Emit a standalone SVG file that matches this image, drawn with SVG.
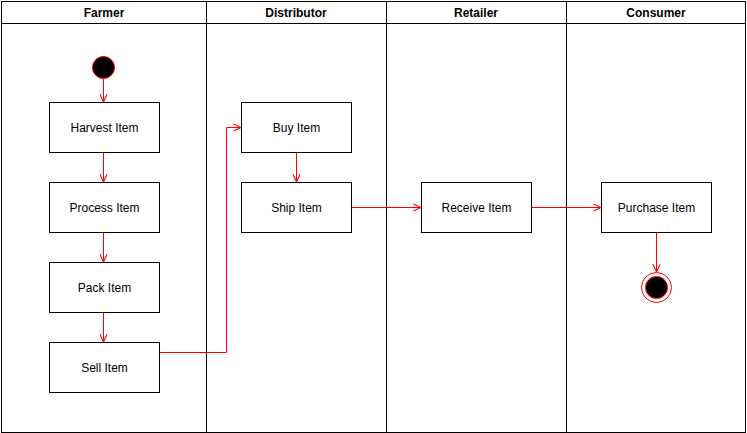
<svg xmlns="http://www.w3.org/2000/svg" width="747" height="433" viewBox="0 0 747 433">
<defs>
<marker id="arr" viewBox="0 0 10 10" refX="9.5" refY="5" markerWidth="9" markerHeight="9" markerUnits="userSpaceOnUse" orient="auto">
<path d="M1,1 L9.5,5 L1,9" fill="none" stroke="#ff0000" stroke-width="1.2"/>
</marker>
</defs>
<style>
.lane{fill:#ffffff;stroke:#000000;stroke-width:1}
.box{fill:#ffffff;stroke:#000000;stroke-width:1}
.t{font-family:"Liberation Sans",Arial,sans-serif;font-size:12px;fill:#000000;text-anchor:middle;dominant-baseline:central}
.h{font-weight:bold}
.c{fill:none;stroke:#ff0000;stroke-width:1;marker-end:url(#arr)}
</style>
<rect x="0" y="0" width="747" height="433" fill="#ffffff"/>
<g id="lane-farmer">
<rect class="lane" x="1.5" y="1.5" width="205" height="431"/>
<line x1="1.5" y1="23.5" x2="206.5" y2="23.5" stroke="#000"/>
<text class="t h" x="104" y="12.5">Farmer</text>
</g>
<g id="lane-distributor">
<rect class="lane" x="206.5" y="1.5" width="180" height="431"/>
<line x1="206.5" y1="23.5" x2="386.5" y2="23.5" stroke="#000"/>
<text class="t h" x="296" y="12.5">Distributor</text>
</g>
<g id="lane-retailer">
<rect class="lane" x="386.5" y="1.5" width="180" height="431"/>
<line x1="386.5" y1="23.5" x2="566.5" y2="23.5" stroke="#000"/>
<text class="t h" x="476" y="12.5">Retailer</text>
</g>
<g id="lane-consumer">
<rect class="lane" x="566.5" y="1.5" width="179" height="431"/>
<line x1="566.5" y1="23.5" x2="745.5" y2="23.5" stroke="#000"/>
<text class="t h" x="656" y="12.5">Consumer</text>
</g>
<g id="start">
<circle cx="103.5" cy="67.5" r="11" fill="#000000" stroke="#ff0000" stroke-width="1"/>
</g>
<g id="harvest">
<rect class="box" x="49.5" y="102.5" width="110" height="50"/>
<text class="t" x="104.5" y="127.5">Harvest Item</text>
</g>
<g id="process">
<rect class="box" x="49.5" y="182.5" width="110" height="50"/>
<text class="t" x="104.5" y="207.5">Process Item</text>
</g>
<g id="pack">
<rect class="box" x="49.5" y="262.5" width="110" height="50"/>
<text class="t" x="104.5" y="287.5">Pack Item</text>
</g>
<g id="sell">
<rect class="box" x="49.5" y="342.5" width="110" height="50"/>
<text class="t" x="104.5" y="367.5">Sell Item</text>
</g>
<g id="buy">
<rect class="box" x="241.5" y="102.5" width="110" height="50"/>
<text class="t" x="296.5" y="127.5">Buy Item</text>
</g>
<g id="ship">
<rect class="box" x="241.5" y="182.5" width="110" height="50"/>
<text class="t" x="296.5" y="207.5">Ship Item</text>
</g>
<g id="receive">
<rect class="box" x="421.5" y="182.5" width="110" height="50"/>
<text class="t" x="476.5" y="207.5">Receive Item</text>
</g>
<g id="purchase">
<rect class="box" x="601.5" y="182.5" width="110" height="50"/>
<text class="t" x="656.5" y="207.5">Purchase Item</text>
</g>
<g id="end">
<circle cx="656.5" cy="287.5" r="15" fill="#ffffff" stroke="#ff0000" stroke-width="1"/>
<circle cx="656.5" cy="287.5" r="11" fill="#000000" stroke="#ff0000" stroke-width="1"/>
</g>
<g id="connectors">
<path class="c" d="M103.5,78.5 L103.5,102"/>
<path class="c" d="M103.5,152.5 L103.5,182"/>
<path class="c" d="M103.5,232.5 L103.5,262"/>
<path class="c" d="M103.5,312.5 L103.5,342"/>
<path class="c" d="M159.5,352.5 L226.5,352.5 L226.5,127.5 L241,127.5"/>
<path class="c" d="M296.5,152.5 L296.5,182"/>
<path class="c" d="M351.5,207.5 L421,207.5"/>
<path class="c" d="M531.5,207.5 L601,207.5"/>
<path class="c" d="M656.5,232.5 L656.5,272"/>
</g>
</svg>
